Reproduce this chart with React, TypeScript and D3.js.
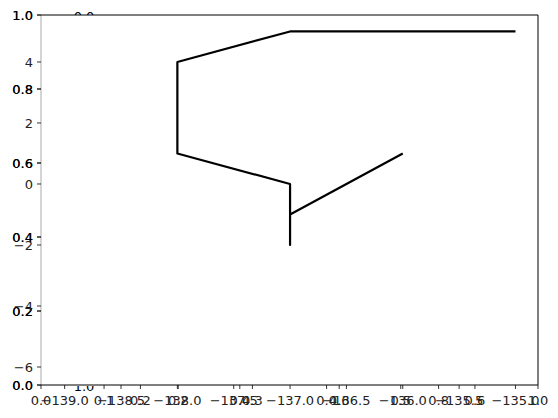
import * as d3 from "d3";

// line data (data axes)
const pathX = [-135, -137, -138, -138, -137, -137, -137, -136];
const pathY = [5, 5, 4, 1, 0, -2, -1, 1];

// tick values
const unitTicks = [0, 0.2, 0.4, 0.6, 0.8, 1.0];
const dataYTicks = [4, 2, 0, -2, -4, -6];
const dataXTicks = [-139, -138.5, -138, -137.5, -137, -136.5, -136, -135.5, -135];
const innerXTicks = [0.1, 0.2, 0.3, 0.4, 0.5, 0.6];

const W = 558;
const H = 418;
const margin = { top: 15, right: 20, bottom: 33, left: 41 };
const FONT = "DejaVu Sans, sans-serif";

export default function App() {
  const x0 = margin.left;
  const x1 = W - margin.right;
  const y0 = margin.top;
  const y1 = H - margin.bottom;

  // background unit axes
  const ux = d3.scaleLinear().domain([0, 1]).range([x0, x1]);
  const uy = d3.scaleLinear().domain([0, 1]).range([y1, y0]);
  // data axes
  const dx = d3.scaleLinear().domain([-139.21, -134.8]).range([x0, x1]);
  const dy = d3.scaleLinear().domain([-6.59, 5.54]).range([y1, y0]);
  // third (inner) axes
  const ix = d3.scaleLinear().domain([0.015, 0.685]).range([x0, x1]);

  const f1 = d3.format(".1f");
  const line = d3
    .line<number>()
    .x((_, i) => dx(pathX[i]))
    .y((d) => dy(d));

  const xTickGroups = [
    { ticks: unitTicks, scale: ux },
    { ticks: dataXTicks, scale: dx },
    { ticks: innerXTicks, scale: ix },
  ];

  return (
    <svg
      width={W}
      height={H}
      style={{ position: "absolute", left: 0, top: 0, background: "#fff" }}
      fontFamily={FONT}
      fontSize={13}
    >
      <defs>
        <clipPath id="clipTop">
          <rect x={0} y={0} width={W} height={y0} />
        </clipPath>
        <clipPath id="clipBottom">
          <rect x={0} y={y1 + 1} width={W} height={H - y1} />
        </clipPath>
      </defs>

      {/* stray labels from a hidden axis */}
      <text x={84} y={21} textAnchor="middle" clipPath="url(#clipTop)" fill="#000">
        0.0
      </text>
      <text x={84} y={391} textAnchor="middle" clipPath="url(#clipBottom)" fill="#000">
        1.0
      </text>

      <path d={line(pathY) ?? ""} fill="none" stroke="#000" strokeWidth={2.2} strokeLinejoin="round" />

      {/* spines */}
      <line x1={x0} x2={x0} y1={y0} y2={y1} stroke="#aaa" strokeWidth={1} />
      <line x1={x1} x2={x1} y1={y0} y2={y1} stroke="#000" strokeWidth={1} />
      <line x1={x0} x2={x1} y1={y0} y2={y0} stroke="#000" strokeWidth={1} />
      <line x1={x0} x2={x1} y1={y1} y2={y1} stroke="#000" strokeWidth={1} />

      {/* y ticks: unit axis drawn twice (overlapping axes) */}
      {[0, 1].map((k) =>
        unitTicks.map((t) => (
          <g key={`uy${k}-${t}`} transform={`translate(${x0},${uy(t)})`}>
            <line x1={-4} x2={0} stroke="#000" strokeWidth={0.8} />
            <text x={-8} dy="0.35em" textAnchor="end" fill="#000">
              {f1(t)}
            </text>
          </g>
        ))
      )}
      {dataYTicks.map((t) => (
        <g key={`dy${t}`} transform={`translate(${x0},${dy(t)})`}>
          <line x1={-4} x2={0} stroke="#000" strokeWidth={0.8} />
          <text x={-8} dy="0.35em" textAnchor="end" fill="#222">
            {d3.format("")(t).replace("-", "\u2212")}
          </text>
        </g>
      ))}

      {/* x ticks */}
      {xTickGroups.map((g, gi) =>
        g.ticks.map((t) => (
          <g key={`x${gi}-${t}`} transform={`translate(${g.scale(t)},${y1})`}>
            <line y1={0} y2={4} stroke="#000" strokeWidth={0.8} />
            <text y={20} textAnchor="middle" fill="#222">
              {f1(t)}
            </text>
          </g>
        ))
      )}
    </svg>
  );
}
